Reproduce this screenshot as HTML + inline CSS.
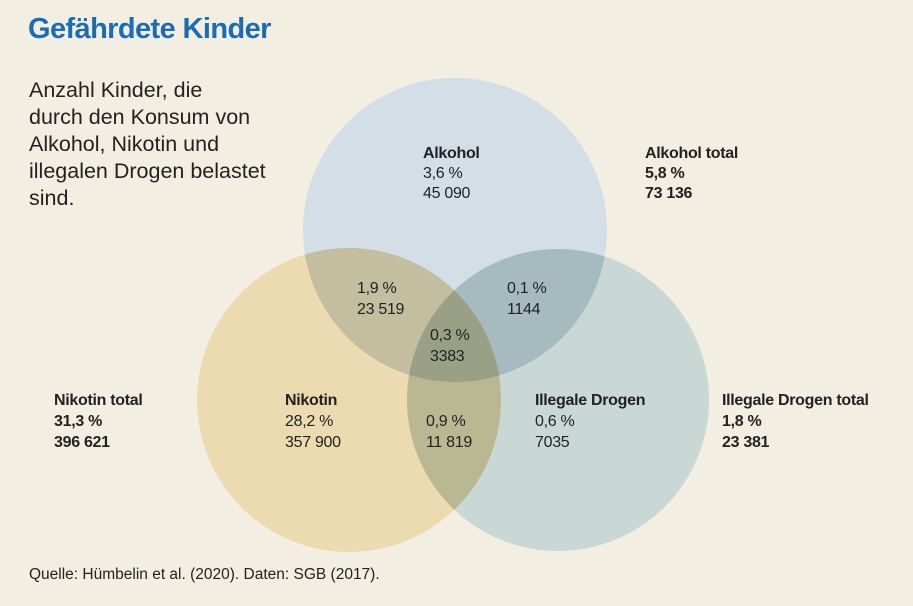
<!DOCTYPE html>
<html><head><meta charset="utf-8"><style>
html,body{margin:0;padding:0;}
body{width:913px;height:606px;background:#f2eee2;position:relative;overflow:hidden;font-family:"Liberation Sans",sans-serif;}
.t{position:absolute;left:28px;top:13px;font-size:29px;font-weight:bold;color:#1b6cb3;letter-spacing:-0.6px;}
.s{position:absolute;left:29px;top:77px;font-size:21.5px;line-height:27px;color:#222;}
.q{position:absolute;left:29px;top:566px;font-size:15.5px;color:#222;}
svg{position:absolute;left:0;top:0;}
svg text{font-family:"Liberation Sans",sans-serif;font-size:16px;fill:#222;letter-spacing:-0.3px;}
.b{font-weight:bold;}
</style></head><body>
<div class="t">Gefährdete Kinder</div>
<div class="s">Anzahl Kinder, die<br>durch den Konsum von<br>Alkohol, Nikotin und<br>illegalen Drogen belastet<br>sind.</div>
<svg width="913" height="606">
<g style="isolation:isolate">
<circle cx="455" cy="230" r="152" fill="#d3dee6"/>
<circle cx="349" cy="400" r="152" fill="#ecdab0" style="mix-blend-mode:multiply"/>
<circle cx="558" cy="400" r="151" fill="#c9d7d5" style="mix-blend-mode:multiply"/>
</g>
<text x="423" y="158" class="b">Alkohol</text>
<text x="423" y="178">3,6 %</text>
<text x="423" y="198">45 090</text>
<text x="645" y="158" class="b">Alkohol total</text>
<text x="645" y="178" class="b">5,8 %</text>
<text x="645" y="198" class="b">73 136</text>
<text x="357" y="293">1,9 %</text>
<text x="357" y="314">23 519</text>
<text x="507" y="293">0,1 %</text>
<text x="507" y="314">1144</text>
<text x="430" y="340">0,3 %</text>
<text x="430" y="361">3383</text>
<text x="285" y="405" class="b">Nikotin</text>
<text x="285" y="426">28,2 %</text>
<text x="285" y="447">357 900</text>
<text x="426" y="426">0,9 %</text>
<text x="426" y="447">11 819</text>
<text x="535" y="405" class="b">Illegale Drogen</text>
<text x="535" y="426">0,6 %</text>
<text x="535" y="447">7035</text>
<text x="54" y="405" class="b">Nikotin total</text>
<text x="54" y="426" class="b">31,3 %</text>
<text x="54" y="447" class="b">396 621</text>
<text x="722" y="405" class="b">Illegale Drogen total</text>
<text x="722" y="426" class="b">1,8 %</text>
<text x="722" y="447" class="b">23 381</text>
</svg>
<div class="q">Quelle: Hümbelin et al. (2020). Daten: SGB (2017).</div>
</body></html>
